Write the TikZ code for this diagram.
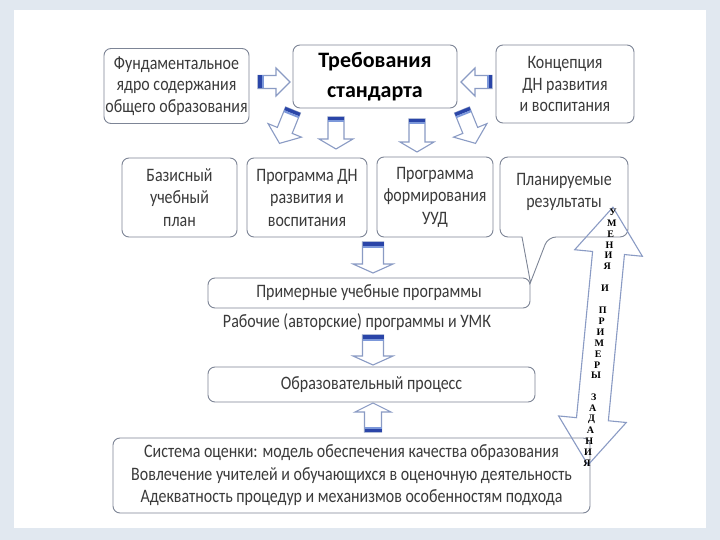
\documentclass[tikz,border=0pt]{standalone}
\usepackage{fontspec}
\setmainfont{Carlito}
\newfontfamily\nfont[FakeStretch=0.84]{Carlito}
\newfontfamily\letterfont{Liberation Serif}
\usetikzlibrary{calc}
\definecolor{bgc}{HTML}{E1E8F0}
\definecolor{boxc}{HTML}{7D8596}
\definecolor{arrc}{HTML}{8A9BC4}
\definecolor{stripec}{HTML}{2A45A8}
\definecolor{stripel}{HTML}{7C98DA}
\definecolor{txt}{HTML}{3A3A3A}
\tikzset{
  box/.style={draw=boxc, line width=0.9pt, rounded corners=7pt, fill=white, align=center,
    text=txt, inner sep=1pt, font=\nfont\fontsize{19}{21.5}\selectfont},
  box2/.style={box, font=\nfont\fontsize{19}{22.5}\selectfont},
  plain/.style={text=txt, align=center, inner sep=1pt, font=\nfont\fontsize{19}{21.5}\selectfont},
  arrline/.style={draw=arrc, line width=1.1pt, fill=white, line join=miter},
  letter/.style={inner sep=0pt, font=\letterfont\bfseries\fontsize{10}{10}\selectfont, text=black},
  pics/blockarrow/.style args={#1/#2/#3/#4}{code={
    \draw[arrline] (0,-#2) -- ({#1-#4},-#2) -- ({#1-#4},-#3) -- (#1,0) -- ({#1-#4},#3) -- ({#1-#4},#2) -- (0,#2) -- cycle;
    \fill[stripec] (0,-#2) rectangle (3.5,#2);
    \fill[stripel] (3.5,-#2) rectangle (5.5,#2);
  }},
}
\begin{document}
\begin{tikzpicture}[x=1pt,y=-1pt]
\useasboundingbox (0,0) rectangle (720,540);
\fill[bgc] (0,0) rectangle (720,540);
\fill[white] (14,10) rectangle (706,528);

% top row
\node[box, minimum width=145pt, minimum height=75pt] (fund) at (176.5,86) {Фундаментальное\\ядро содержания\\общего образования};
\node[box, minimum width=164pt, minimum height=63pt, font=\bfseries\fontsize{22}{30}\selectfont, text=black] (treb) at (375,76.5) {Требования\\стандарта};
\node[box, minimum width=138pt, minimum height=78pt] (konc) at (565,84) {Концепция\\ДН развития\\и воспитания};

% second row
\node[box2, minimum width=115pt, minimum height=79pt] (baz) at (179.5,197.5) {Базисный\\учебный\\план};
\node[box2, minimum width=120pt, minimum height=79pt] (progdn) at (307,197.5) {Программа ДН\\развития и\\воспитания};
\node[box2, minimum width=116pt, minimum height=80pt] (uud) at (435,197) {Программа\\формирования\\УУД};

% lower boxes
\node[box, minimum width=322pt, minimum height=30pt] (prim) at (369,293) {Примерные учебные программы};
\node[plain] (rab) at (357,322) {Рабочие (авторские) программы и УМК};
\node[box, minimum width=327pt, minimum height=35pt] (obr) at (371.5,384.5) {Образовательный процесс};
\node[box, minimum width=477pt, minimum height=75pt, font=\nfont\fontsize{19}{22.5}\selectfont] (sys) at (351.5,475.5) {Система оценки: модель обеспечения качества образования\\Вовлечение учителей и обучающихся в оценочную деятельность\\Адекватность процедур и механизмов особенностям подхода};

% callout
\coordinate (ptip) at ($(prim.north east)+(0,5)$);
\draw[draw=boxc, line width=0.9pt, fill=white] (ptip) -- (522,237) [rounded corners=8pt] -- (500,237) -- (500,157) -- (628,157) -- (628,237) -- (548,237) [sharp corners] -- cycle;
\node[plain] (plan) at (564,192) {Планируемые\\результаты};

% block arrows
\pic at (258,82) {blockarrow={32/6.5/14/14}};
\pic[rotate=180] at (492,82) {blockarrow={31/6.5/14/14}};
\pic[rotate=-90] at (336,117) {blockarrow={32/8/17/10}};
\pic[rotate=-90] at (417,119) {blockarrow={33/8/17/10}};
\pic[rotate=-112] at (293,110) {blockarrow={36/8/18/14}};
\pic[rotate=-68] at (462,110) {blockarrow={36/8/18/14}};
\pic[rotate=-90] at (373,242) {blockarrow={31/10.5/20/9}};
\pic[rotate=-90] at (373,335) {blockarrow={30/10.5/20/9}};
\pic[rotate=90] at (373,432) {blockarrow={29/8.5/18/9}};

% double arrow
\begin{scope}[shift={(588,465)}, rotate=84.47]
\draw[draw=arrc, line width=1.1pt, line join=miter]
  (0,0) -- (46,34) -- (46,16) -- (213,16) -- (213,34) -- (259,0) -- (213,-34) -- (213,-16) -- (46,-16) -- (46,-34) -- cycle;
\end{scope}
\coordinate (ltop) at (613,212);
\coordinate (lbot) at (587,463);
\foreach \c [count=\i from 0] in {У,М,Е,Н,И,Я,{},И,{},П,Р,И,М,Е,Р,Ы,{},З,А,Д,А,Н,И,Я}{
  \node[letter] (l\i) at ($(ltop)!{\i/23}!(lbot)$) {\c};
}
\end{tikzpicture}
\end{document}
